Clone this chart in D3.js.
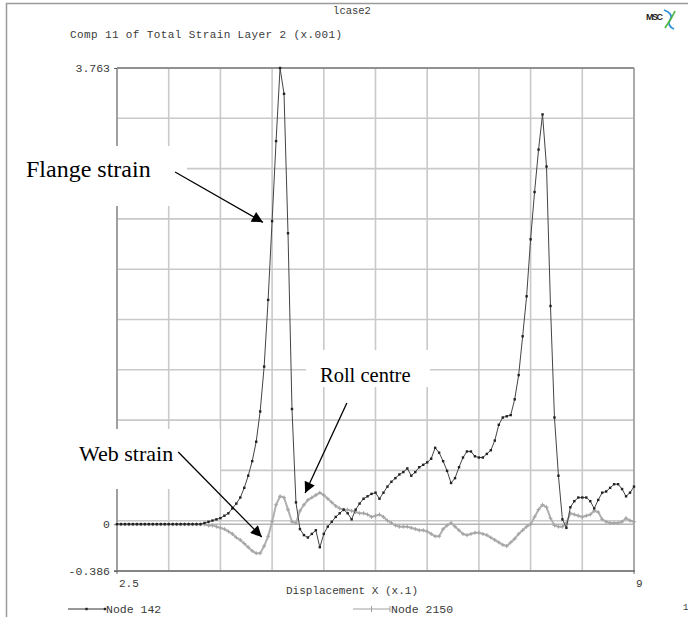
<!DOCTYPE html>
<html>
<head>
<meta charset="utf-8">
<script src="https://cdn.jsdelivr.net/npm/d3@7"></script>
<style>
  html, body { margin: 0; padding: 0; background: #fff; }
  svg { display: block; }
  .mono { font-family: "Liberation Mono", "DejaVu Sans Mono", monospace; fill: #3a3a3a; }
  .note { font-family: "Liberation Serif", "Times New Roman", serif; fill: #000; }
</style>
</head>
<body>
<svg id="chart" width="688" height="617"></svg>
<script>
// Sample positions along Displacement X (x .1)
const displacementX = [
  2.50, 2.55, 2.60, 2.65, 2.70, 2.75, 2.80, 2.85, 2.90, 2.95,
  3.00, 3.05, 3.10, 3.15, 3.20, 3.25, 3.30, 3.35, 3.40, 3.45,
  3.50, 3.55, 3.60, 3.65, 3.70, 3.75, 3.80, 3.85, 3.90, 3.95,
  4.00, 4.05, 4.10, 4.15, 4.20, 4.25, 4.30, 4.35, 4.40, 4.45,
  4.50, 4.55, 4.60, 4.65, 4.70, 4.75, 4.80, 4.85, 4.90, 4.95,
  5.00, 5.05, 5.10, 5.15, 5.20, 5.25, 5.30, 5.35, 5.40, 5.45,
  5.50, 5.55, 5.60, 5.65, 5.70, 5.75, 5.80, 5.85, 5.90, 5.95,
  6.00, 6.05, 6.10, 6.15, 6.20, 6.25, 6.30, 6.35, 6.40, 6.45,
  6.50, 6.55, 6.60, 6.65, 6.70, 6.75, 6.80, 6.85, 6.90, 6.95,
  7.00, 7.05, 7.10, 7.15, 7.20, 7.25, 7.30, 7.35, 7.40, 7.45,
  7.50, 7.55, 7.60, 7.65, 7.70, 7.75, 7.80, 7.85, 7.90, 7.95,
  8.00, 8.05, 8.10, 8.15, 8.20, 8.25, 8.30, 8.35, 8.40, 8.45,
  8.50, 8.55, 8.60, 8.65, 8.70, 8.75, 8.80, 8.85, 8.90, 8.95,
  9.00
];

// Node 142 (flange) – Comp 11 of total strain, layer 2 (x .001)
const node142 = [
  0.00, 0.00, 0.00, 0.00, 0.00, 0.00, 0.00, 0.00, 0.00, 0.00,
  0.00, 0.00, 0.00, 0.00, 0.00, 0.00, 0.00, 0.00, 0.00, 0.00,
  0.00, 0.00, 0.01, 0.02, 0.03, 0.04, 0.05, 0.07, 0.09, 0.13,
  0.17, 0.22, 0.30, 0.40, 0.52, 0.68, 0.93, 1.30, 1.85, 2.50,
  3.16, 3.763, 3.55, 2.40, 0.95, 0.18, -0.04, -0.09, -0.11, -0.08,
  -0.05, -0.19, -0.08, -0.02, 0.02, 0.06, 0.09, 0.12, 0.09, 0.04,
  0.12, 0.17, 0.21, 0.23, 0.25, 0.26, 0.21, 0.26, 0.31, 0.35,
  0.38, 0.41, 0.43, 0.46, 0.40, 0.43, 0.47, 0.49, 0.51, 0.54,
  0.63, 0.59, 0.52, 0.44, 0.34, 0.38, 0.47, 0.55, 0.60, 0.60,
  0.56, 0.55, 0.55, 0.58, 0.61, 0.69, 0.82, 0.88, 0.89, 0.90,
  1.03, 1.23, 1.55, 1.88, 2.35, 2.74, 3.09, 3.38, 2.95, 1.80,
  0.88, 0.40, 0.04, -0.03, 0.14, 0.19, 0.22, 0.22, 0.22, 0.19,
  0.13, 0.20, 0.26, 0.27, 0.30, 0.33, 0.33, 0.29, 0.23, 0.26,
  0.31
];

// Node 2150 (web)
const node2150 = [
  0.00, 0.00, 0.00, 0.00, 0.00, 0.00, 0.00, 0.00, 0.00, 0.00,
  0.00, 0.00, 0.00, 0.00, 0.00, 0.00, 0.00, 0.00, 0.00, 0.00,
  0.00, 0.00, 0.00, -0.01, -0.01, -0.02, -0.03, -0.04, -0.06, -0.08,
  -0.11, -0.13, -0.16, -0.19, -0.22, -0.24, -0.24, -0.18, -0.10, 0.02,
  0.16, 0.23, 0.22, 0.12, 0.02, 0.01, 0.11, 0.16, 0.20, 0.22,
  0.24, 0.26, 0.24, 0.21, 0.18, 0.15, 0.13, 0.12, 0.12, 0.11,
  0.10, 0.09, 0.09, 0.08, 0.06, 0.07, 0.08, 0.06, 0.03, 0.01,
  -0.01, -0.02, -0.02, -0.02, -0.03, -0.04, -0.05, -0.05, -0.06, -0.08,
  -0.10, -0.10, -0.04, -0.01, 0.01, -0.02, -0.05, -0.08, -0.09, -0.08,
  -0.07, -0.07, -0.08, -0.09, -0.11, -0.13, -0.15, -0.17, -0.18, -0.15,
  -0.12, -0.08, -0.05, -0.02, 0.00, 0.06, 0.12, 0.16, 0.14, 0.05,
  -0.01, -0.02, -0.02, 0.01, 0.09, 0.08, 0.07, 0.06, 0.07, 0.08,
  0.11, 0.10, 0.04, 0.02, 0.01, 0.01, 0.01, 0.02, 0.05, 0.03,
  0.02
];

// Axis range and labelled ticks
const xDomain = [2.5, 9];
const yDomain = [-0.386, 3.763];
const xTickLabels = ["2.5", "9"];
const yTickLabels = ["3.763", "0", "-0.386"];
const gridDivisions = 10;

// Callout notes: text plus arrow tail/tip in data units
const notes = [
  { text: "Flange strain", tail: [3.23, 2.905], tip: [4.335, 2.49] },
  { text: "Roll centre",   tail: [5.39, 1.00],  tip: [4.865, 0.257] },
  { text: "Web strain",    tail: [3.27, 0.596], tip: [4.32, -0.106] }
];

const svg = d3.select("#chart");
const W = 688, H = 617;
const plot = { left: 117, right: 634, top: 68, bottom: 571 };

const x = d3.scaleLinear().domain(xDomain).range([plot.left, plot.right]);
const y = d3.scaleLinear().domain(yDomain).range([plot.bottom, plot.top]);

// viewport frame
svg.append("path")
  .attr("d", `M6.5,${H} V3.5 H${W}`)
  .attr("fill", "none").attr("stroke", "#9a9a9a").attr("stroke-width", 1.5);

// header texts
svg.append("text").attr("class", "mono")
  .attr("x", 352).attr("y", 14).attr("text-anchor", "middle")
  .style("font-size", "10.5px").text("lcase2");
svg.append("text").attr("class", "mono")
  .attr("x", 70).attr("y", 38)
  .style("font-size", "11px").attr("textLength", 272)
  .text("Comp 11 of Total Strain Layer 2 (x.001)");

// MSC mark
const logo = svg.append("g").attr("transform", "translate(646,10)");
logo.append("text").attr("x", 0).attr("y", 10)
  .style("font-family", "Liberation Sans, Arial, sans-serif")
  .style("font-weight", "bold").style("font-size", "9px")
  .attr("textLength", 17).attr("fill", "#222").text("MSC");
logo.append("path").attr("d", "M18,0 C24,2 27,6 24,10 C22,13 23,17 28,19")
  .attr("fill", "none").attr("stroke", "#2d8fd6").attr("stroke-width", 1.8);
logo.append("path").attr("d", "M19,18 C22,13 25,10 29,1")
  .attr("fill", "none").attr("stroke", "#56b947").attr("stroke-width", 1.8);

// grid
const xGrid = d3.range(gridDivisions + 1).map(k => xDomain[0] + k * (xDomain[1] - xDomain[0]) / gridDivisions);
const yGrid = d3.range(gridDivisions + 1).map(k => yDomain[0] + k * (yDomain[1] - yDomain[0]) / gridDivisions);

const grid = svg.append("g").attr("stroke", "#c9c9c9").attr("stroke-width", 1.6);
grid.selectAll("line.v").data(xGrid).join("line")
  .attr("x1", d => x(d)).attr("x2", d => x(d))
  .attr("y1", plot.top).attr("y2", plot.bottom);
grid.selectAll("line.h").data(yGrid).join("line")
  .attr("x1", plot.left).attr("x2", plot.right)
  .attr("y1", d => y(d)).attr("y2", d => y(d));
// zero reference
svg.append("line")
  .attr("x1", plot.left).attr("x2", plot.right)
  .attr("y1", y(0)).attr("y2", y(0))
  .attr("stroke", "#b5b5b5").attr("stroke-width", 1.6);

// frame of the plot area
svg.append("line").attr("x1", plot.left).attr("x2", plot.right)
  .attr("y1", plot.top).attr("y2", plot.top).attr("stroke", "#7a7a7a").attr("stroke-width", 1.6);
svg.append("line").attr("x1", plot.left).attr("x2", plot.left)
  .attr("y1", plot.top).attr("y2", plot.bottom).attr("stroke", "#8a8a8a").attr("stroke-width", 1.4);
svg.append("line").attr("x1", plot.right).attr("x2", plot.right)
  .attr("y1", plot.top).attr("y2", plot.bottom).attr("stroke", "#9a9a9a").attr("stroke-width", 1.4);
svg.append("line").attr("x1", plot.left - 3).attr("x2", plot.right + 1)
  .attr("y1", plot.bottom).attr("y2", plot.bottom).attr("stroke", "#6a6a6a").attr("stroke-width", 1.6);

// y tick labels
const yAxis = d3.axisLeft(y).tickValues(yTickLabels.map(Number)).tickSize(3).tickPadding(4)
  .tickFormat((d, i) => yTickLabels[i]);
const gy = svg.append("g").attr("transform", `translate(${plot.left},0)`).call(yAxis);
gy.select(".domain").remove();
gy.selectAll(".tick line").attr("stroke", "#666");
gy.selectAll(".tick text").attr("class", "mono").style("font-size", "11.5px").attr("fill", "#3a3a3a");

// x tick labels (left-aligned on their ticks)
const gx = svg.append("g").attr("transform", `translate(0,${plot.bottom})`);
gx.selectAll("text").data(xTickLabels).join("text")
  .attr("class", "mono").style("font-size", "11px")
  .attr("x", d => x(+d) + 2).attr("y", 16)
  .text(d => d);
gx.selectAll("line").data(xTickLabels).join("line")
  .attr("x1", d => x(+d)).attr("x2", d => x(+d)).attr("y1", 0).attr("y2", 3)
  .attr("stroke", "#666");

svg.append("text").attr("class", "mono")
  .attr("x", 352).attr("y", 594).attr("text-anchor", "middle")
  .style("font-size", "11px").text("Displacement X  (x.1)");

// series
const web = displacementX.map((d, i) => [d, node2150[i]]);
const flange = displacementX.map((d, i) => [d, node142[i]]);
const line = d3.line().x(d => x(d[0])).y(d => y(d[1]));

svg.append("path").datum(web).attr("d", line)
  .attr("fill", "none").attr("stroke", "#b0b0b0").attr("stroke-width", 2);
svg.append("g").selectAll("path").data(web).join("path")
  .attr("d", d => `M${x(d[0]) - 2},${y(d[1])} h4 M${x(d[0])},${y(d[1]) - 2} v4`)
  .attr("stroke", "#a4a4a4").attr("stroke-width", 1);

svg.append("path").datum(flange).attr("d", line)
  .attr("fill", "none").attr("stroke", "#444").attr("stroke-width", 1);
svg.append("g").selectAll("rect").data(flange).join("rect")
  .attr("x", d => x(d[0]) - 1.2).attr("y", d => y(d[1]) - 1.2)
  .attr("width", 2.4).attr("height", 2.4).attr("fill", "#222");

// callouts
svg.append("defs").append("marker")
  .attr("id", "head").attr("viewBox", "0 0 10 10")
  .attr("refX", 10).attr("refY", 5)
  .attr("markerWidth", 14).attr("markerHeight", 11)
  .attr("markerUnits", "userSpaceOnUse")
  .attr("orient", "auto")
  .append("path").attr("d", "M0,0 L10,5 L0,10 Z").attr("fill", "#000");

const boxes = [
  { x: 18, y: 146, w: 169, h: 60, tx: 26, ty: 177, size: 24 },
  { x: 306, y: 350, w: 124, h: 37, tx: 320, ty: 382, size: 20.5 },
  { x: 74, y: 429, w: 146, h: 60, tx: 79, ty: 461, size: 22 }
];
notes.forEach((n, i) => {
  const b = boxes[i];
  svg.append("rect").attr("x", b.x).attr("y", b.y).attr("width", b.w).attr("height", b.h)
    .attr("fill", "#fff");
  svg.append("text").attr("class", "note").attr("x", b.tx).attr("y", b.ty)
    .style("font-size", b.size + "px").text(n.text);
  svg.append("line")
    .attr("x1", x(n.tail[0])).attr("y1", y(n.tail[1]))
    .attr("x2", x(n.tip[0])).attr("y2", y(n.tip[1]))
    .attr("stroke", "#000").attr("stroke-width", 1.3)
    .attr("marker-end", "url(#head)");
});

// legend
const legend = svg.append("g").attr("transform", "translate(0,609)");
const leg = [
  { name: "Node 142", x0: 68, x1: 105, color: "#333", mark: "dot" },
  { name: "Node 2150", x0: 353, x1: 390, color: "#a0a0a0", mark: "plus" }
];
leg.forEach(l => {
  legend.append("line").attr("x1", l.x0).attr("x2", l.x1).attr("y1", 0).attr("y2", 0)
    .attr("stroke", l.color).attr("stroke-width", 1);
  [l.x0 + (l.x1 - l.x0) / 2, l.x1].forEach(px => {
    if (l.mark === "dot") {
      legend.append("rect").attr("x", px - 1.2).attr("y", -1.2).attr("width", 2.4).attr("height", 2.4).attr("fill", "#222");
    } else {
      legend.append("path").attr("d", `M${px},-3 v6`).attr("stroke", l.color);
    }
  });
  legend.append("text").attr("class", "mono").attr("x", l.x1 + 1).attr("y", 4)
    .style("font-size", "11.5px").text(l.name);
});

svg.append("text").attr("class", "mono").attr("x", 683).attr("y", 610)
  .style("font-size", "9px").attr("fill", "#999").text("1");
</script>
</body>
</html>
